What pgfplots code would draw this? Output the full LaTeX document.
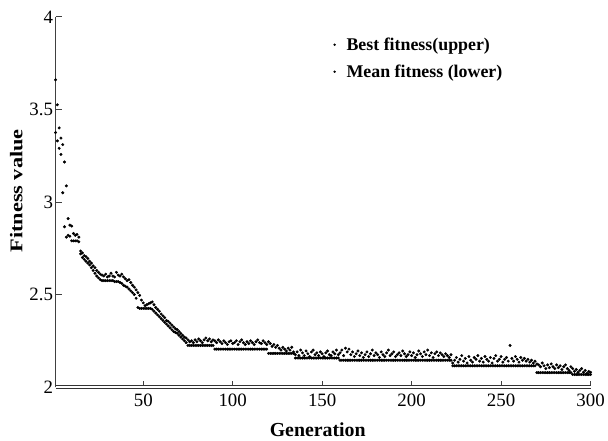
\documentclass[border=0pt]{standalone}
\usepackage{pgfplots}
\pgfplotsset{compat=1.18}
\usepackage{pgfplotstable}
\usepackage{fontspec}
\setmainfont{Liberation Serif}
\pgfplotstableread{
g u l
1 3.660 3.375
2 3.525 3.330
3 3.400 3.290
4 3.345 3.257
5 3.310 3.050
6 3.216 2.866
7 3.087 2.810
8 2.910 2.820
9 2.875 2.815
10 2.870 2.790
11 2.830 2.790
12 2.820 2.790
13 2.825 2.790
14 2.810 2.785
15 2.735 2.720
16 2.725 2.700
17 2.710 2.690
18 2.705 2.680
19 2.695 2.670
20 2.680 2.660
21 2.670 2.645
22 2.655 2.630
23 2.645 2.615
24 2.630 2.600
25 2.620 2.590
26 2.610 2.580
27 2.605 2.575
28 2.600 2.575
29 2.610 2.575
30 2.595 2.575
31 2.600 2.575
32 2.615 2.575
33 2.600 2.575
34 2.595 2.570
35 2.620 2.570
36 2.605 2.570
37 2.600 2.565
38 2.610 2.560
39 2.595 2.550
40 2.585 2.545
41 2.575 2.540
42 2.580 2.530
43 2.565 2.520
44 2.550 2.510
45 2.540 2.500
46 2.525 2.480
47 2.510 2.430
48 2.495 2.425
49 2.470 2.425
50 2.455 2.425
51 2.440 2.425
52 2.445 2.425
53 2.450 2.425
54 2.455 2.425
55 2.460 2.420
56 2.445 2.410
57 2.430 2.400
58 2.420 2.390
59 2.410 2.380
60 2.395 2.370
61 2.385 2.360
62 2.375 2.350
63 2.360 2.340
64 2.355 2.330
65 2.345 2.320
66 2.335 2.310
67 2.325 2.300
68 2.315 2.295
69 2.310 2.290
70 2.300 2.280
71 2.290 2.270
72 2.280 2.260
73 2.270 2.250
74 2.265 2.240
75 2.255 2.225
76 2.245 2.225
77 2.250 2.225
78 2.240 2.225
79 2.255 2.225
80 2.245 2.225
81 2.260 2.225
82 2.250 2.225
83 2.240 2.225
84 2.255 2.225
85 2.265 2.225
86 2.250 2.225
87 2.260 2.225
88 2.245 2.225
89 2.255 2.225
90 2.250 2.205
91 2.240 2.205
92 2.255 2.205
93 2.245 2.205
94 2.235 2.205
95 2.250 2.205
96 2.240 2.205
97 2.230 2.205
98 2.245 2.205
99 2.250 2.205
100 2.235 2.205
101 2.240 2.205
102 2.250 2.205
103 2.230 2.205
104 2.245 2.205
105 2.255 2.205
106 2.240 2.205
107 2.230 2.205
108 2.245 2.205
109 2.235 2.205
110 2.250 2.205
111 2.240 2.205
112 2.230 2.205
113 2.245 2.205
114 2.255 2.205
115 2.240 2.205
116 2.235 2.205
117 2.250 2.205
118 2.240 2.205
119 2.230 2.205
120 2.245 2.182
121 2.235 2.182
122 2.220 2.182
123 2.230 2.182
124 2.215 2.182
125 2.225 2.182
126 2.210 2.182
127 2.200 2.182
128 2.215 2.182
129 2.205 2.182
130 2.195 2.182
131 2.210 2.182
132 2.200 2.182
133 2.215 2.182
134 2.190 2.182
135 2.175 2.157
136 2.190 2.157
137 2.170 2.157
138 2.200 2.157
139 2.185 2.157
140 2.170 2.157
141 2.195 2.157
142 2.180 2.157
143 2.165 2.157
144 2.190 2.157
145 2.200 2.157
146 2.175 2.157
147 2.185 2.157
148 2.170 2.157
149 2.190 2.157
150 2.180 2.157
151 2.165 2.157
152 2.185 2.157
153 2.195 2.157
154 2.175 2.157
155 2.170 2.157
156 2.190 2.157
157 2.180 2.157
158 2.200 2.157
159 2.175 2.157
160 2.185 2.145
161 2.200 2.145
162 2.170 2.145
163 2.210 2.145
164 2.190 2.145
165 2.205 2.145
166 2.175 2.145
167 2.190 2.145
168 2.165 2.145
169 2.180 2.145
170 2.195 2.145
171 2.170 2.145
172 2.185 2.145
173 2.160 2.145
174 2.175 2.145
175 2.190 2.145
176 2.165 2.145
177 2.180 2.145
178 2.200 2.145
179 2.170 2.145
180 2.185 2.145
181 2.175 2.145
182 2.160 2.145
183 2.190 2.145
184 2.175 2.145
185 2.165 2.145
186 2.185 2.145
187 2.200 2.145
188 2.170 2.145
189 2.180 2.145
190 2.190 2.145
191 2.165 2.145
192 2.175 2.145
193 2.185 2.145
194 2.170 2.145
195 2.195 2.145
196 2.180 2.145
197 2.165 2.145
198 2.175 2.145
199 2.190 2.145
200 2.170 2.145
201 2.185 2.145
202 2.160 2.145
203 2.175 2.145
204 2.195 2.145
205 2.180 2.145
206 2.165 2.145
207 2.190 2.145
208 2.175 2.145
209 2.200 2.145
210 2.170 2.145
211 2.185 2.145
212 2.160 2.145
213 2.180 2.145
214 2.190 2.145
215 2.170 2.145
216 2.185 2.145
217 2.175 2.145
218 2.165 2.145
219 2.180 2.145
220 2.170 2.145
221 2.160 2.145
222 2.175 2.145
223 2.130 2.115
224 2.145 2.115
225 2.160 2.115
226 2.135 2.115
227 2.150 2.115
228 2.170 2.115
229 2.140 2.115
230 2.155 2.115
231 2.130 2.115
232 2.165 2.115
233 2.145 2.115
234 2.135 2.115
235 2.160 2.115
236 2.150 2.115
237 2.170 2.115
238 2.140 2.115
239 2.155 2.115
240 2.135 2.115
241 2.165 2.115
242 2.150 2.115
243 2.140 2.115
244 2.160 2.115
245 2.130 2.115
246 2.155 2.115
247 2.170 2.115
248 2.140 2.115
249 2.150 2.115
250 2.165 2.115
251 2.135 2.115
252 2.150 2.115
253 2.160 2.115
254 2.140 2.115
255 2.225 2.115
256 2.155 2.115
257 2.140 2.115
258 2.165 2.115
259 2.150 2.115
260 2.135 2.115
261 2.160 2.115
262 2.145 2.115
263 2.155 2.115
264 2.140 2.115
265 2.150 2.115
266 2.135 2.115
267 2.145 2.115
268 2.130 2.115
269 2.140 2.115
270 2.125 2.078
271 2.120 2.078
272 2.110 2.078
273 2.130 2.078
274 2.115 2.078
275 2.100 2.078
276 2.120 2.078
277 2.105 2.078
278 2.125 2.078
279 2.110 2.078
280 2.100 2.078
281 2.120 2.078
282 2.105 2.078
283 2.115 2.078
284 2.095 2.078
285 2.110 2.078
286 2.120 2.078
287 2.100 2.078
288 2.090 2.078
289 2.110 2.078
290 2.100 2.068
291 2.085 2.068
292 2.095 2.068
293 2.080 2.068
294 2.090 2.068
295 2.100 2.068
296 2.080 2.068
297 2.090 2.068
298 2.075 2.068
299 2.085 2.068
300 2.080 2.068
}\fitdata
\begin{document}
\begin{tikzpicture}
\begin{axis}[
  scale only axis,
  width=539pt, height=373pt,
  xmin=1, xmax=300, ymin=2, ymax=4,
  axis x line*=bottom, axis y line*=left,
  x axis line style={double, double distance=1.6pt, line width=0.8pt, color=black!80},
  y axis line style={line width=1.1pt, color=black!75},
  xtick={50,100,150,200,250,300},
  ytick={2,2.5,3,3.5,4},
  tick align=inside,
  major tick length=6pt,
  every tick/.style={color=black!75, line width=0.9pt},
  tick label style={font=\fontsize{19}{19}\selectfont},
  /pgf/number format/assume math mode=true,
  yticklabel style={xshift=1pt},
  xticklabel style={yshift=-3pt},
  xlabel={\bfseries Generation},
  ylabel={\scalebox{1.25}[1]{\bfseries Fitness value}},
  xlabel style={font=\fontsize{20}{20}\selectfont, at={(ticklabel cs:0.49)}, yshift=-10pt},
  ylabel style={font=\fontsize{18}{18}\selectfont, at={(ticklabel cs:0.53)}},
  legend style={at={(rel axis cs:0.512,0.955)}, anchor=north west, draw=none, fill=none,
    font=\bfseries\fontsize{18}{18}\selectfont, row sep=9pt},
  legend cell align=left,
  legend image code/.code={\path[draw=none, fill=none] (0pt,0pt) -- (12pt,0pt); \fill[black] (2pt,0pt) circle (1pt);},
]
\addplot[only marks, mark=*, mark size=1.3pt, color=black] table[x=g, y=u] {\fitdata};
\addlegendentry{Best fitness(upper)}
\addplot[only marks, mark=*, mark size=1.3pt, color=black] table[x=g, y=l] {\fitdata};
\addlegendentry{Mean fitness (lower)}
\end{axis}
\path (current axis.south west) ++(-56pt,-51pt) rectangle ++(608pt,441pt);
\end{tikzpicture}
\end{document}
